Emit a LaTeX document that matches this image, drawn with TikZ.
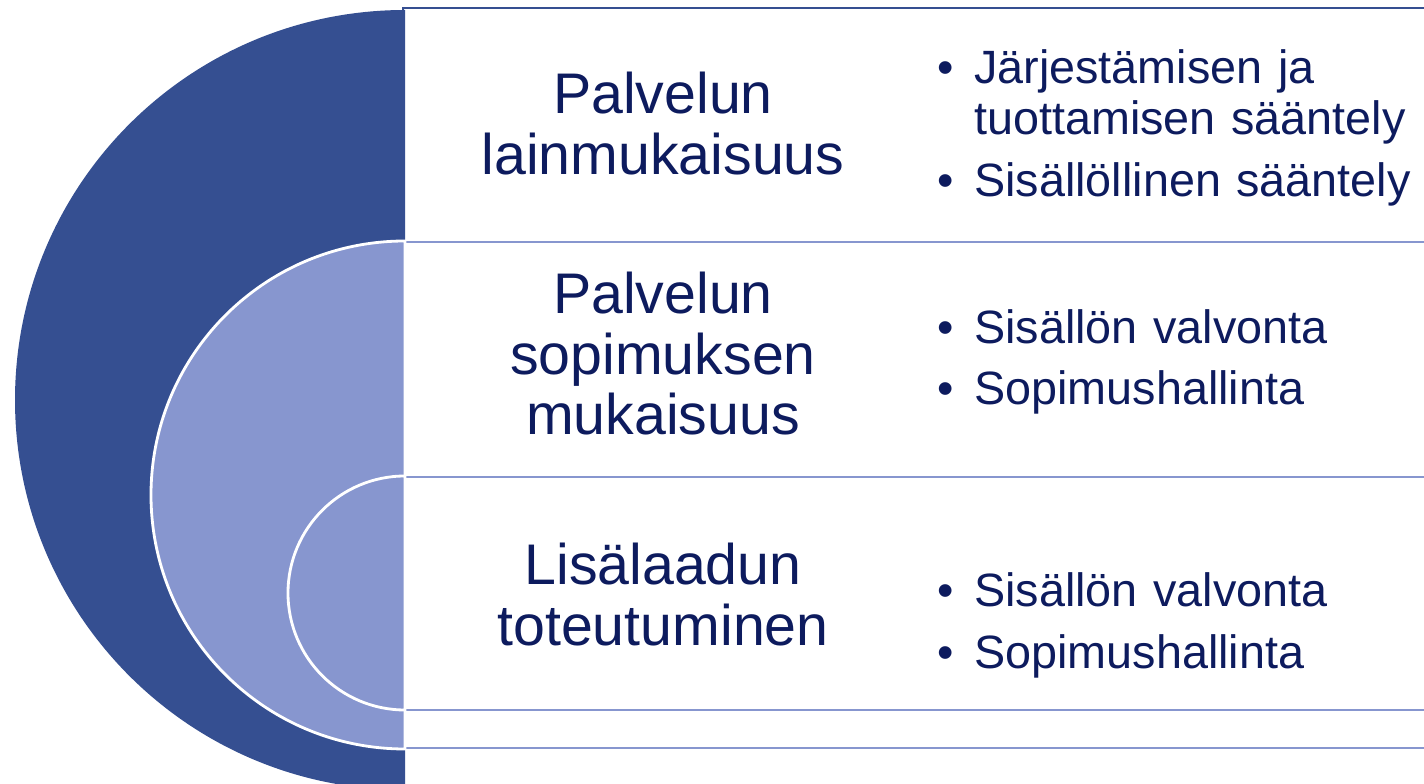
\documentclass[tikz,border=0pt]{standalone}
\usepackage{fontspec}
\setmainfont{Liberation Sans}
\definecolor{darkblue}{RGB}{53,79,145}
\definecolor{lightblue}{RGB}{135,150,207}
\definecolor{navytext}{RGB}{13,27,94}
\newcommand{\bitem}[1]{\setlength{\parskip}{5.7pt}\hangindent=0.74cm\hangafter=1\makebox[0.74cm][l]{\textbullet}#1\par}

\begin{document}
\begin{tikzpicture}[x=0.02cm,y=0.02cm,
        rowbox/.style={draw=#1,line width=1.5pt,fill=white},
        halfdisc/.style={fill=#1,draw=white,line width=1.6pt},
        rowtitle/.style={text=navytext,text width=8cm,align=center,anchor=base,inner sep=0pt,
                         font=\fontsize{32.6}{34.6}\selectfont},
        rowitems/.style={text=navytext,text width=12cm,align=left,anchor=base west,inner sep=0pt,
                         font=\fontsize{26.6}{29.4}\selectfont}]
        \useasboundingbox (0,0) rectangle (1424,784);
        \clip (0,0) rectangle (1424,784);

        % outer ring
        \draw[rowbox=darkblue] (403,776) rectangle (1440,-20);
        \draw[halfdisc=darkblue,draw=none] (405,774) arc (90:270:390) -- cycle;

        % middle ring
        \draw[rowbox=lightblue] (403,542) rectangle (1440,36);
        \draw[halfdisc=lightblue] (405,543) arc (90:270:254) -- cycle;

        % inner ring
        \draw[rowbox=lightblue] (403,307) rectangle (1440,74);
        \draw[halfdisc=lightblue] (405,308) arc (90:270:117) -- cycle;

        \node[rowtitle] (title1) at (663,670.7) {Palvelun\\lainmukaisuus};
        \node[rowtitle] (title2) at (663,470.7) {Palvelun\\sopimuksen\\mukaisuus};
        \node[rowtitle] (title3) at (663,199) {Lisälaadun\\toteutuminen};

        \node[rowitems] (items1) at (937,700.7) {\bitem{Järjestämisen ja\newline tuottamisen sääntely}
                \bitem{Sisällöllinen sääntely}};
        \node[rowitems] (items2) at (937,440.7) {\bitem{Sisällön valvonta}
                \bitem{Sopimushallinta}};
        \node[rowitems] (items3) at (937,177.3) {\bitem{Sisällön valvonta}
                \bitem{Sopimushallinta}};
\end{tikzpicture}
\end{document}
